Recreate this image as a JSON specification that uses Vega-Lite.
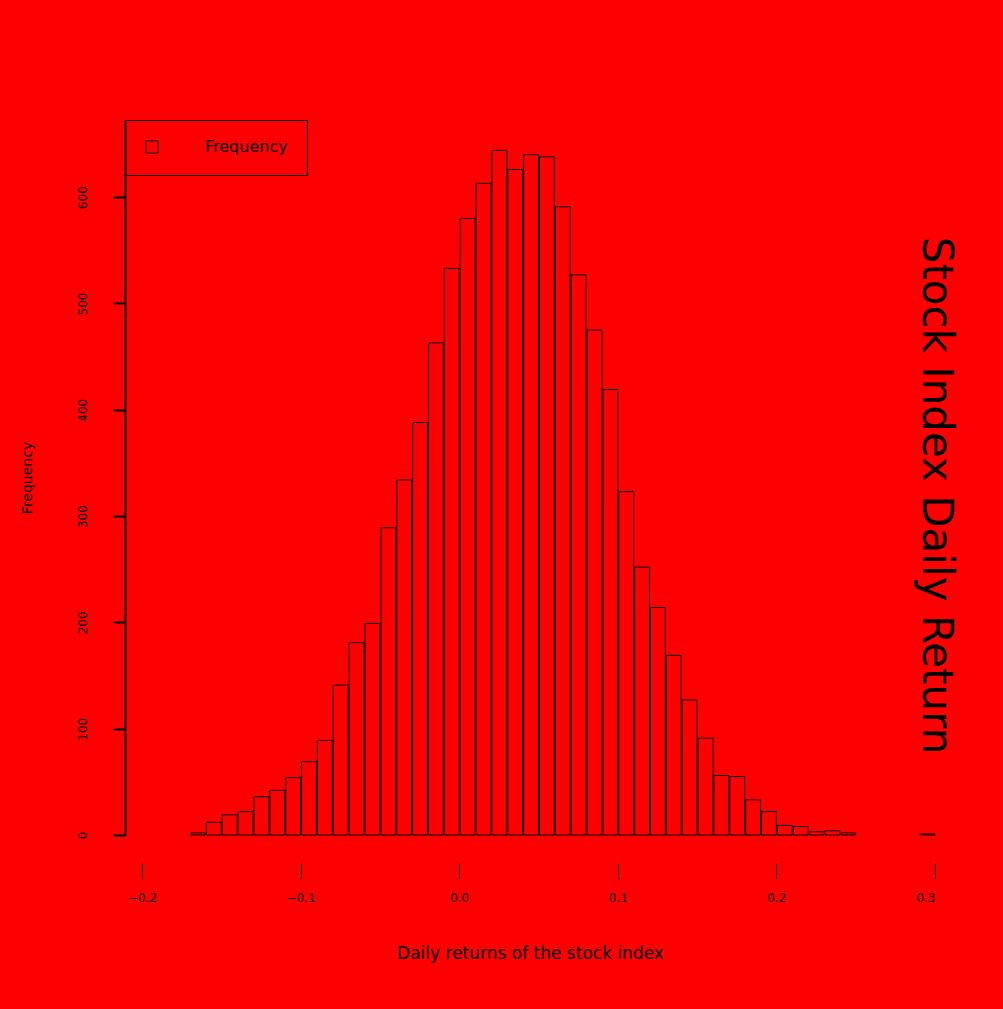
{
  "$schema": "https://vega.github.io/schema/vega-lite/v6.json",
  "autosize": "none",
  "width": 810,
  "height": 715,
  "padding": {"left": 125, "top": 120, "right": 68, "bottom": 174},
  "background": "#ff0000",
  "title": {"text": "Stock Index Daily Return", "orient": "right", "anchor": "middle", "fontSize": 42, "color": "black", "font": "DejaVu Sans", "fontWeight": "normal", "offset": -22, "dx": 18},
  "config": {"view": {"stroke": null}, "font": "DejaVu Sans"},
  "data": {"values": [
    {"x0": -0.17, "x1": -0.16, "count": 2},
    {"x0": -0.16, "x1": -0.15, "count": 12},
    {"x0": -0.15, "x1": -0.14, "count": 19},
    {"x0": -0.14, "x1": -0.13, "count": 22},
    {"x0": -0.13, "x1": -0.12, "count": 36},
    {"x0": -0.12, "x1": -0.11, "count": 42},
    {"x0": -0.11, "x1": -0.10, "count": 54},
    {"x0": -0.10, "x1": -0.09, "count": 69},
    {"x0": -0.09, "x1": -0.08, "count": 89},
    {"x0": -0.08, "x1": -0.07, "count": 141},
    {"x0": -0.07, "x1": -0.06, "count": 181},
    {"x0": -0.06, "x1": -0.05, "count": 199},
    {"x0": -0.05, "x1": -0.04, "count": 289},
    {"x0": -0.04, "x1": -0.03, "count": 334},
    {"x0": -0.03, "x1": -0.02, "count": 388},
    {"x0": -0.02, "x1": -0.01, "count": 463},
    {"x0": -0.01, "x1": 0.00, "count": 533},
    {"x0": 0.00, "x1": 0.01, "count": 580},
    {"x0": 0.01, "x1": 0.02, "count": 613},
    {"x0": 0.02, "x1": 0.03, "count": 644},
    {"x0": 0.03, "x1": 0.04, "count": 626},
    {"x0": 0.04, "x1": 0.05, "count": 640},
    {"x0": 0.05, "x1": 0.06, "count": 638},
    {"x0": 0.06, "x1": 0.07, "count": 591},
    {"x0": 0.07, "x1": 0.08, "count": 527},
    {"x0": 0.08, "x1": 0.09, "count": 475},
    {"x0": 0.09, "x1": 0.10, "count": 419},
    {"x0": 0.10, "x1": 0.11, "count": 323},
    {"x0": 0.11, "x1": 0.12, "count": 252},
    {"x0": 0.12, "x1": 0.13, "count": 214},
    {"x0": 0.13, "x1": 0.14, "count": 169},
    {"x0": 0.14, "x1": 0.15, "count": 127},
    {"x0": 0.15, "x1": 0.16, "count": 91},
    {"x0": 0.16, "x1": 0.17, "count": 56},
    {"x0": 0.17, "x1": 0.18, "count": 55},
    {"x0": 0.18, "x1": 0.19, "count": 33},
    {"x0": 0.19, "x1": 0.20, "count": 22},
    {"x0": 0.20, "x1": 0.21, "count": 9},
    {"x0": 0.21, "x1": 0.22, "count": 8},
    {"x0": 0.22, "x1": 0.23, "count": 3},
    {"x0": 0.23, "x1": 0.24, "count": 4},
    {"x0": 0.24, "x1": 0.25, "count": 2},
    {"x0": 0.29, "x1": 0.30, "count": 1}
  ]},
  "mark": {"type": "bar", "stroke": "black", "strokeWidth": 1, "fill": "#ff0000"},
  "encoding": {
    "x": {"field": "x0", "type": "quantitative", "bin": {"binned": true, "step": 0.01},
      "scale": {"domain": [-0.2107, 0.3], "nice": false, "zero": false},
      "axis": {"values": [-0.2, -0.1, 0, 0.1, 0.2, 0.3], "format": ".1f", "domain": false, "offset": 28, "tickSize": 15, "tickColor": "black", "labelColor": "black", "labelFontSize": 12, "labelPadding": 14, "grid": false,
        "title": "Daily returns of the stock index", "titleFontSize": 17, "titleFontWeight": "normal", "titleColor": "black", "titlePadding": 42}},
    "x2": {"field": "x1"},
    "y": {"field": "count", "type": "quantitative",
      "scale": {"domain": [0, 672.6], "nice": false},
      "axis": {"values": [0, 100, 200, 300, 400, 500, 600], "domainColor": "black", "domainWidth": 2, "tickColor": "black", "tickSize": 12, "tickWidth": 2, "labelAngle": -90, "labelColor": "black", "labelFontSize": 12, "labelPadding": 24, "grid": false,
        "title": "Frequency", "titleFontSize": 14, "titleFontWeight": "normal", "titleColor": "black", "titlePadding": 42}},
    "color": {"datum": "Frequency", "scale": {"range": ["#ff0000"]},
      "legend": {"orient": "top-left", "title": null, "strokeColor": "black", "padding": 19, "offset": 0, "labelFontSize": 16, "labelOffset": 45, "labelColor": "black", "symbolType": "square", "symbolStrokeColor": "black", "symbolStrokeWidth": 1, "symbolSize": 150}}
  }
}
